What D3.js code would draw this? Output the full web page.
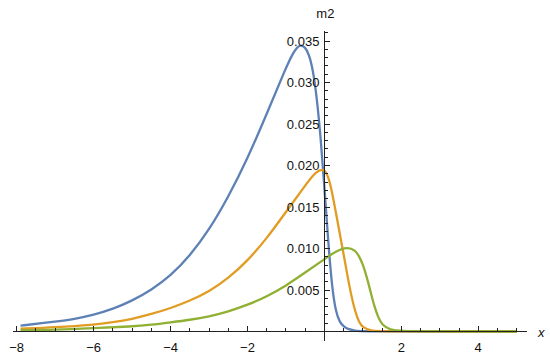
<!DOCTYPE html>
<html>
<head>
<meta charset="utf-8">
<style>
  body { margin: 0; background: #fff; }
  svg { display: block; }
  text { font-family: "Liberation Sans", Arial, sans-serif; font-size: 13px; fill: #111; }
</style>
</head>
<body>
<svg></svg>
<script src="https://d3js.org/d3.v7.min.js"></script>
<script>
// values
var blueX   = [-7.9, -7, -6.5, -6, -5.5, -5, -4.5, -4, -3.5, -3, -2.5, -2, -1.5, -1, -0.8, -0.65, -0.5, -0.4, -0.3, -0.2, -0.1, 0, 0.1, 0.2, 0.3, 0.4, 0.5, 0.6, 0.8, 1, 5];
var blueY   = [0.0007, 0.0012, 0.0015, 0.0020, 0.0027, 0.0037, 0.0050, 0.0067, 0.0091, 0.0122, 0.0162, 0.0208, 0.0262, 0.0318, 0.0337, 0.0346, 0.0343, 0.0334, 0.0316, 0.0283, 0.0236, 0.0174, 0.0108, 0.0052, 0.0023, 0.0011, 0.0006, 0.0003, 0.0001, 0, 0];

var orangeX = [-7.9, -7, -6, -5.5, -5, -4.5, -4, -3.5, -3, -2.5, -2, -1.5, -1, -0.5, -0.2, 0, 0.1, 0.2, 0.3, 0.4, 0.5, 0.6, 0.7, 0.8, 0.9, 1.0, 1.2, 1.5, 5];
var orangeY = [0.00034, 0.0005, 0.0008, 0.0011, 0.0015, 0.0021, 0.0028, 0.0037, 0.0048, 0.0064, 0.0085, 0.0112, 0.0144, 0.0176, 0.0194, 0.0196, 0.0187, 0.0168, 0.0143, 0.0118, 0.0093, 0.0067, 0.0043, 0.0024, 0.0011, 0.0005, 0.0001, 0, 0];

var greenX  = [-7.9, -7, -6, -5, -4.5, -4, -3.5, -3, -2.5, -2, -1.5, -1, -0.5, 0, 0.3, 0.6, 0.8, 0.9, 1.0, 1.1, 1.2, 1.3, 1.4, 1.5, 1.7, 2.0, 5];
var greenY  = [0.00015, 0.0002, 0.0004, 0.0006, 0.0008, 0.0011, 0.0014, 0.0018, 0.0024, 0.0032, 0.0042, 0.0055, 0.0071, 0.0087, 0.0097, 0.0102, 0.0098, 0.0091, 0.0081, 0.0066, 0.0048, 0.0030, 0.0017, 0.0008, 0.0002, 0, 0];

var xTicks = [-8, -6, -4, -2, 2, 4];
var yTicks = [0.005, 0.010, 0.015, 0.020, 0.025, 0.030, 0.035];

var series = [
  { xs: blueX, ys: blueY, color: '#5E81B5' },
  { xs: orangeX, ys: orangeY, color: '#E19C24' },
  { xs: greenX, ys: greenY, color: '#8FB032' }
];

var width = 550, height = 354;
var svg = d3.select('svg').attr('width', width).attr('height', height);

var x = d3.scaleLinear().domain([-8, 5]).range([16.7, 516.7]);
var y = d3.scaleLinear().domain([0, 0.035]).range([331.5, 41]);

var x0 = x(0), y0 = y(0);

// curves
var line = d3.line()
  .x(function (d) { return x(d[0]); })
  .y(function (d) { return y(d[1]); })
  .curve(d3.curveBasis);

series.forEach(function (s) {
  var pts = s.xs.map(function (v, i) { return [v, s.ys[i]]; });
  svg.append('path')
    .attr('d', line(pts))
    .attr('fill', 'none')
    .attr('stroke', s.color)
    .attr('stroke-width', 2.3)
    .attr('stroke-linejoin', 'round');
});

// axes
var ax = svg.append('g').attr('stroke', '#222').attr('stroke-width', 1).attr('shape-rendering', 'crispEdges');
ax.append('line').attr('x1', 13).attr('x2', 527).attr('y1', y0).attr('y2', y0);
ax.append('line').attr('x1', x0).attr('x2', x0).attr('y1', 31).attr('y2', 341);

// x ticks: minor every 0.5, major every 2
d3.range(-16, 11).forEach(function (k) {
  var v = k / 2;
  if (v === 0) return;
  var major = (v % 2 === 0);
  ax.append('line')
    .attr('x1', x(v)).attr('x2', x(v))
    .attr('y1', y0).attr('y2', y0 - (major ? 6 : 4));
});

// y ticks: minor every 0.001, major every 0.005
d3.range(1, 37).forEach(function (k) {
  var v = k / 1000;
  var major = (k % 5 === 0);
  ax.append('line')
    .attr('x1', x0).attr('x2', x0 + (major ? 6 : 4))
    .attr('y1', y(v)).attr('y2', y(v));
});

// tick labels
svg.selectAll('.xl').data(xTicks).enter().append('text')
  .attr('class', 'xl')
  .attr('x', function (d) { return x(d); })
  .attr('y', 352)
  .attr('text-anchor', 'middle')
  .text(function (d) { return d < 0 ? '\u2212' + Math.abs(d) : d; });

svg.selectAll('.yl').data(yTicks).enter().append('text')
  .attr('class', 'yl')
  .attr('x', x0 - 5)
  .attr('y', function (d) { return y(d); })
  .attr('dy', '0.36em')
  .attr('text-anchor', 'end')
  .text(function (d) { return d3.format('.3f')(d); });

// axis names
svg.append('text').attr('x', x0 + 1).attr('y', 18).attr('text-anchor', 'middle').text('m2');
svg.append('text').attr('x', 538).attr('y', y0 + 5).attr('font-style', 'italic').text('x');
</script>
</body>
</html>
